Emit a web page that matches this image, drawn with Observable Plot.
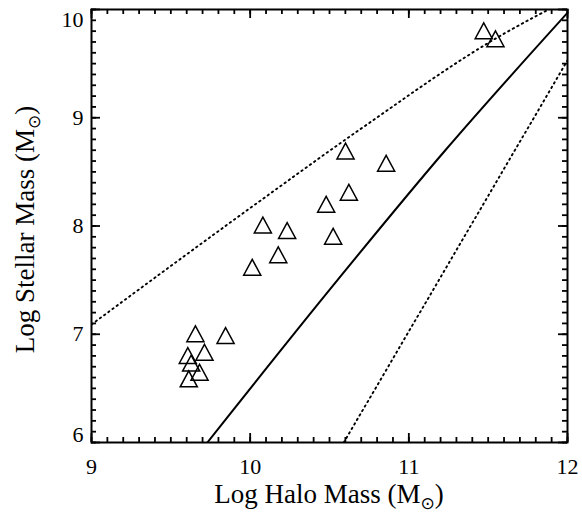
<!DOCTYPE html>
<html><head><meta charset="utf-8">
<script src="https://cdn.jsdelivr.net/npm/d3@7"></script>
<script src="https://cdn.jsdelivr.net/npm/@observablehq/plot@0.6"></script>
<style>body{margin:0;background:#fff}#note{position:absolute;left:100px;top:14px;width:220px;font:9px monospace;white-space:pre-wrap;color:red}</style>
</head><body><div id="chart"></div><div id="note"></div>
<script>
// Galaxies: log halo mass vs log stellar mass
const haloMass = [9.655, 9.845, 9.712, 9.607, 9.628, 9.681, 9.613,
  10.601, 10.857, 10.622, 10.479, 10.080, 10.233, 10.523, 10.177, 10.013,
  11.472, 11.546];
const stellarMass = [7.004, 6.988, 6.834, 6.804, 6.733, 6.649, 6.588,
  8.693, 8.579, 8.312, 8.201, 8.009, 7.958, 7.905, 7.734, 7.619,
  9.803, 9.729];
// relation (solid) and bounding relations (dotted)
const solidX = [9.73, 10.5, 11.23, 12.0];
const solidY = [6.0, 7.41, 8.70, 9.97];
const upperX = [9.0, 10.07, 10.68, 11.58, 12.0];
const upperY = [7.09, 8.24, 8.88, 9.76, 10.09];
const lowerX = [10.59, 12.0];
const lowerY = [6.0, 9.53];
const xMajor = [9, 10, 11, 12];
const yMajor = [6, 7, 8, 9, 10];
const xMinor = d3.range(90, 121).map(d => d / 10);
const yMinor = d3.range(60, 101).map(d => d / 10);
const xTitle = "Log Halo Mass (M";
const yTitle = "Log Stellar Mass (M";
const sunSymbol = "\u2299";

const W = 582, H = 515, mL = 91, mR = 15, mT = 9, mB = 73;
const fw = W - mL - mR, fh = H - mT - mB;
const points = haloMass.map((h, i) => ({h, s: stellarMass[i]}));
const toXY = (xs, ys) => xs.map((x, i) => ({x, y: ys[i]}));
// IDL-style open triangle, centred on its bounding box
const idlTriangle = {
  draw(ctx, size) {
    const r = Math.sqrt(size / Math.PI);
    const w = r * 0.95, h = r * 0.88;
    ctx.moveTo(0, -h); ctx.lineTo(w, h); ctx.lineTo(-w, h); ctx.closePath();
  }
};
const id = d => d;
const tk = (o) => ({stroke: "black", strokeWidth: 1.8, ...o});
try {
const plot = Plot.plot({
  width: W, height: H, marginLeft: mL, marginRight: mR, marginTop: mT, marginBottom: mB,
  style: {fontFamily: "Liberation Serif", background: "#fff", color: "black"},
  x: {domain: [9, 12], label: null, axis: null},
  y: {domain: [6, 10], label: null, axis: null},
  marks: [
    // inward ticks on all four sides
    Plot.ruleX(xMinor, tk({x: id, insetTop: fh - 5})),
    Plot.ruleX(xMinor, tk({x: id, insetBottom: fh - 5})),
    Plot.ruleX(xMajor, tk({x: id, insetTop: fh - 9})),
    Plot.ruleX(xMajor, tk({x: id, insetBottom: fh - 9})),
    Plot.ruleY(yMinor, tk({y: id, insetRight: fw - 5})),
    Plot.ruleY(yMinor, tk({y: id, insetLeft: fw - 5})),
    Plot.ruleY(yMajor, tk({y: id, insetRight: fw - 9})),
    Plot.ruleY(yMajor, tk({y: id, insetLeft: fw - 9})),
    Plot.line(toXY(solidX, solidY), {x: "x", y: "y", stroke: "black", strokeWidth: 2, curve: "monotone-x", clip: true}),
    Plot.line(toXY(upperX, upperY), {x: "x", y: "y", stroke: "black", strokeWidth: 1.9, strokeDasharray: "1.4,3.8", curve: "monotone-x", clip: true}),
    Plot.line(toXY(lowerX, lowerY), {x: "x", y: "y", stroke: "black", strokeWidth: 1.9, strokeDasharray: "1.4,3.8", clip: true}),
    Plot.dot(points, {x: "h", y: "s", symbol: idlTriangle, r: 9, fill: "none", stroke: "black", strokeWidth: 1.5}),
    // tick labels
    Plot.text(xMajor, {x: id, frameAnchor: "bottom", dy: 31, text: d => String(d), fontSize: 22, fill: "black"}),
    Plot.text(yMajor.filter(d => d > 6 && d < 10), {y: id, frameAnchor: "left", dx: -8, textAnchor: "end", text: d => String(d), fontSize: 22, fill: "black"}),
    Plot.text(yMajor.filter(d => d === 10), {y: id, frameAnchor: "left", dx: -8, dy: 10, textAnchor: "end", text: d => String(d), fontSize: 22, fill: "black"}),
    Plot.text(yMajor.filter(d => d === 6), {y: id, frameAnchor: "left", dx: -8, dy: -8, textAnchor: "end", text: d => String(d), fontSize: 22, fill: "black"}),
    Plot.frame({stroke: "black", strokeWidth: 2})
  ]
});
document.getElementById("chart").appendChild(plot);
// axis titles with subscript solar symbol
const sx = plot.scale("x"), sy = plot.scale("y");
const svg = d3.select(plot);
function title(sel, main) {
  sel.attr("font-family", "Liberation Serif").attr("font-size", 27).attr("fill", "black").attr("text-anchor", "middle");
  sel.append("tspan").text(main);
  sel.append("tspan").attr("font-size", 17).attr("dy", 6).attr("font-family", "DejaVu Sans").text(sunSymbol);
  sel.append("tspan").attr("dy", -6).text(")");
}
title(svg.append("text").attr("x", sx.apply(10.5)).attr("y", 503), xTitle);
title(svg.append("text").attr("transform", `translate(34,${sy.apply(8) + 4}) rotate(-90)`), yTitle);
} catch (e) { document.getElementById("note").textContent = "ERR " + e.message; }
</script>
</body></html>
